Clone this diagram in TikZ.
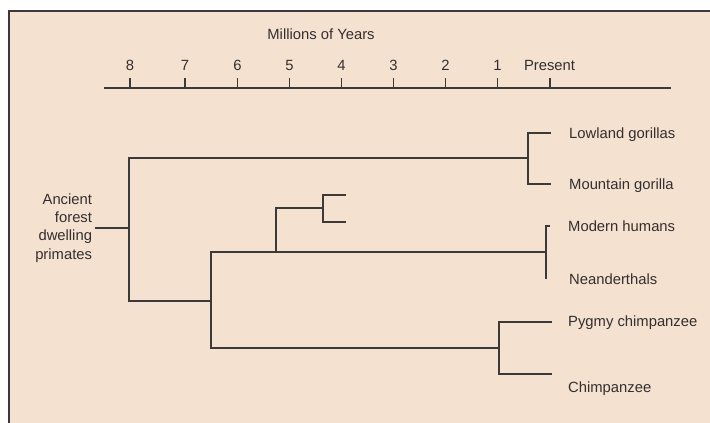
\documentclass[tikz,border=0pt]{standalone}
\usepackage{fontspec}
\setmainfont{Liberation Sans}
\definecolor{bg}{HTML}{F4E1D0}
\definecolor{ln}{HTML}{3C3939}
\definecolor{tx}{HTML}{332F2F}
\begin{document}
\begin{tikzpicture}[x=1pt,y=-1pt,
  lbl/.style={font=\fontsize{14.8}{18.2}\selectfont, text=tx, inner sep=0pt},
  leaf/.style={lbl, anchor=base west},
  branch/.style={draw=ln, line width=1.3pt, line cap=rect},
  axisline/.style={draw=ln, line width=1.4pt}]
\useasboundingbox (0,0) rectangle (710,423);
\fill[white] (0,0) rectangle (710,423);
\fill[bg] (9,11) rectangle (710,423);
\draw[ln, line width=2pt] (9,423) -- (9,11) -- (710,11);

% axis
\node[lbl, anchor=base] (title) at (321,39.5) {Millions of Years};
\coordinate (axL) at (104,88);
\coordinate (axR) at (671,88);
\draw[axisline] (axL) -- (axR);
\foreach \i/\x in {8/130,7/185,6/237.5,5/289.5,4/341.5,3/393.5,2/445.5,1/497.5} {
  \coordinate (t\i) at (\x,88);
  \coordinate (tt\i) at (\x,78);
  \draw[axisline] (t\i) -- (tt\i);
  \node[lbl, anchor=base] (lab\i) at (\x,70) {\i};
}
\coordinate (t0) at (550,88);
\coordinate (tt0) at (550,78);
\draw[axisline] (t0) -- (tt0);
\node[lbl, anchor=base] (lab0) at (549.5,70) {Present};

% root
\node[lbl, align=right, anchor=east, outer sep=2.5pt] (anc) at (94.5,228) {Ancient\\forest\\dwelling\\primates};
\coordinate (r0) at (129,228);
\coordinate (rT) at (129,158);
\coordinate (rB) at (129,301);
\draw[branch, line cap=butt] (anc.east) -- (r0);
\draw[branch] (rT) -- (rB);

% gorillas
\coordinate (gF) at (528,158);
\coordinate (gT) at (528,133);
\coordinate (gB) at (528,184);
\coordinate (gTe) at (550,133);
\coordinate (gBe) at (550,184);
\draw[branch] (rT) -- (gF);
\draw[branch] (gTe) -- (gT) -- (gB) -- (gBe);
\node[leaf] (lowland) at (569,138.5) {Lowland gorillas};
\node[leaf] (mountain) at (569,189) {Mountain gorilla};

% lower clade
\coordinate (bF) at (211,301);
\coordinate (bT) at (211,252);
\coordinate (bB) at (211,348);
\draw[branch] (rB) -- (bF);
\draw[branch] (bT) -- (bB);

% humans
\coordinate (hF) at (546,252);
\coordinate (hT) at (546,226);
\coordinate (hB) at (546,278);
\coordinate (hTe) at (549,226);
\coordinate (hBe) at (548,278);
\draw[branch] (bT) -- (hF);
\draw[branch] (hTe) -- (hT) -- (hB);
\node[leaf] (modern) at (568,231.5) {Modern humans};
\node[leaf] (neand) at (569,284) {Neanderthals};

% extinct side branch
\coordinate (sA) at (276,252);
\coordinate (sB) at (276,208);
\coordinate (sF) at (323,208);
\coordinate (sT) at (323,195);
\coordinate (sBt) at (323,222);
\coordinate (sTe) at (345,195);
\coordinate (sBe) at (345,222);
\draw[branch] (sA) -- (sB) -- (sF);
\draw[branch] (sTe) -- (sT) -- (sBt) -- (sBe);

% chimpanzees
\coordinate (cF) at (499,348);
\coordinate (cT) at (499,322);
\coordinate (cB) at (499,374);
\coordinate (cTe) at (551,322);
\coordinate (cBe) at (551,374);
\draw[branch] (bB) -- (cF);
\draw[branch] (cTe) -- (cT) -- (cB) -- (cBe);
\node[leaf] (pygmy) at (568,326.5) {Pygmy chimpanzee};
\node[leaf] (chimp) at (568,392) {Chimpanzee};
\end{tikzpicture}
\end{document}
